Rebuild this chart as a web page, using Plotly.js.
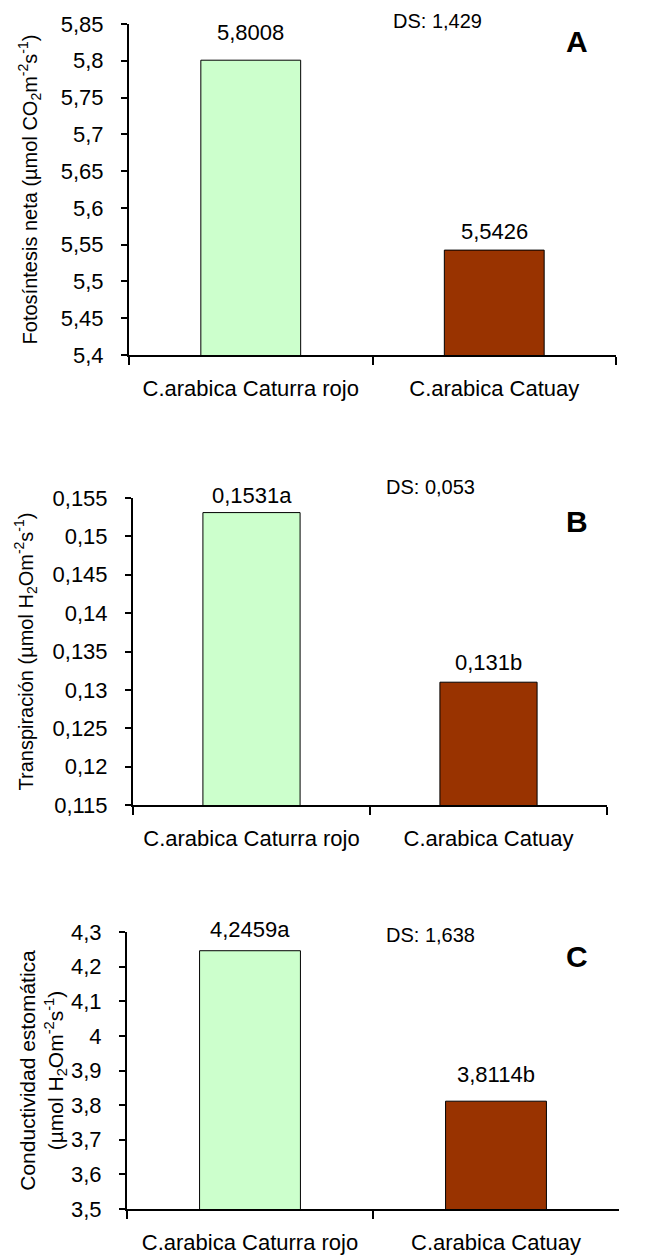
<!DOCTYPE html>
<html>
<head>
<meta charset="utf-8">
<script src="https://cdn.plot.ly/plotly-3.0.1.min.js"></script>
<style>html,body{margin:0;padding:0;background:#fff;}#chart{width:665px;height:1257px;}</style>
</head>
<body>
<div id="chart"></div>
<script>
// ---- data ----
const categories = ['C.arabica Caturra rojo', 'C.arabica Catuay'];
const valuesA = [5.8008, 5.5426];
const valuesB = [0.1531, 0.131];
const valuesC = [4.2459, 3.8114];
const barLabelsA = ['5,8008', '5,5426'];
const barLabelsB = ['0,1531a', '0,131b'];
const barLabelsC = ['4,2459a', '3,8114b'];
const tickValsA = [5.4, 5.45, 5.5, 5.55, 5.6, 5.65, 5.7, 5.75, 5.8, 5.85];
const tickTextA = ['5,4', '5,45', '5,5', '5,55', '5,6', '5,65', '5,7', '5,75', '5,8', '5,85'];
const tickValsB = [0.115, 0.12, 0.125, 0.13, 0.135, 0.14, 0.145, 0.15, 0.155];
const tickTextB = ['0,115', '0,12', '0,125', '0,13', '0,135', '0,14', '0,145', '0,15', '0,155'];
const tickValsC = [3.5, 3.6, 3.7, 3.8, 3.9, 4.0, 4.1, 4.2, 4.3];
const tickTextC = ['3,5', '3,6', '3,7', '3,8', '3,9', '4', '4,1', '4,2', '4,3'];
const dsTexts = ['DS: 1,429', 'DS: 0,053', 'DS: 1,638'];
const panelLetters = ['A', 'B', 'C'];
const yTitles = [
  'Fotosíntesis neta (µmol CO<sub>2</sub>m<sup>-2</sup>s<sup>-1</sup>)',
  'Transpiración (µmol H<sub>2</sub>Om<sup>-2</sup>s<sup>-1</sup>)',
  'Conductividad estomática<br>(µmol H<sub>2</sub>Om<sup>-2</sup>s<sup>-1</sup>)'
];

// ---- styling / layout ----
const W = 665, H = 1257;
const FONT = 'Liberation Sans, Arial, sans-serif';
const barColors = ['#CCFFCC', '#993300'];
const labelShift = [[28, 19], [17, 20], [21, 27]];
const titleStandoff = [18, 14, 2];
const titleSize = [20, 20, 21];
const panels = [
  {vals: valuesA, labels: barLabelsA, tv: tickValsA, tt: tickTextA, range: [5.4, 5.85], px: [129, 616], py: [24, 355]},
  {vals: valuesB, labels: barLabelsB, tv: tickValsB, tt: tickTextB, range: [0.115, 0.155], px: [133, 607], py: [498, 805]},
  {vals: valuesC, labels: barLabelsC, tv: tickValsC, tt: tickTextC, range: [3.5, 4.3], px: [127, 619], py: [932, 1209]}
];
const dsPos = [[437, 21], [431, 487], [431, 935]];
const letterPos = [[577, 41], [577, 521], [577, 956]];

const data = [];
const layout = {
  width: W, height: H,
  margin: {l: 0, r: 0, t: 0, b: 0},
  paper_bgcolor: '#fff', plot_bgcolor: '#fff',
  showlegend: false,
  font: {family: FONT, color: '#000', size: 22},
  annotations: []
};

panels.forEach((p, i) => {
  const n = i === 0 ? '' : String(i + 1);
  data.push({
    type: 'bar',
    x: categories,
    y: p.vals,
    xaxis: 'x' + n, yaxis: 'y' + n,
    width: 0.41,
    marker: {color: barColors, line: {color: '#000', width: 1}},
    hoverinfo: 'skip'
  });
  layout['xaxis' + n] = {
    domain: [p.px[0] / W, p.px[1] / W],
    anchor: 'y' + n,
    type: 'category',
    range: [-0.5, 1.5],
    tickson: 'boundaries',
    ticks: 'outside', ticklen: 8, tickwidth: 2, tickcolor: '#000',
    showline: true, linewidth: 2, linecolor: '#000',
    showgrid: false, zeroline: false,
    ticklabelstandoff: 13,
    tickfont: {family: FONT, size: 22, color: '#000'},
    fixedrange: true
  };
  layout['yaxis' + n] = {
    domain: [1 - p.py[1] / H, 1 - p.py[0] / H],
    anchor: 'x' + n,
    range: p.range,
    tickmode: 'array', tickvals: p.tv, ticktext: p.tt,
    ticks: 'outside', ticklen: 6, tickwidth: 2, tickcolor: '#000',
    showline: true, linewidth: 2, linecolor: '#000',
    showgrid: false, zeroline: false,
    ticklabelstandoff: 13,
    tickfont: {family: FONT, size: 22, color: '#000'},
    title: {text: yTitles[i], font: {family: FONT, size: titleSize[i], color: '#000'}, standoff: titleStandoff[i]},
    fixedrange: true
  };
  p.vals.forEach((v, j) => {
    layout.annotations.push({
      xref: 'x' + n, yref: 'y' + n, x: categories[j], y: v,
      text: p.labels[j], showarrow: false,
      yanchor: 'middle', yshift: labelShift[i][j],
      font: {family: FONT, size: 22, color: '#000'}
    });
  });
  layout.annotations.push({
    xref: 'paper', yref: 'paper', x: dsPos[i][0] / W, y: 1 - dsPos[i][1] / H,
    text: dsTexts[i], showarrow: false, xanchor: 'center', yanchor: 'middle',
    font: {family: FONT, size: 20, color: '#000'}
  });
  layout.annotations.push({
    xref: 'paper', yref: 'paper', x: letterPos[i][0] / W, y: 1 - letterPos[i][1] / H,
    text: '<b>' + panelLetters[i] + '</b>', showarrow: false, xanchor: 'center', yanchor: 'middle',
    font: {family: FONT, size: 30, color: '#000'}
  });
});

Plotly.newPlot('chart', data, layout, {staticPlot: true, displayModeBar: false});
</script>
</body>
</html>
